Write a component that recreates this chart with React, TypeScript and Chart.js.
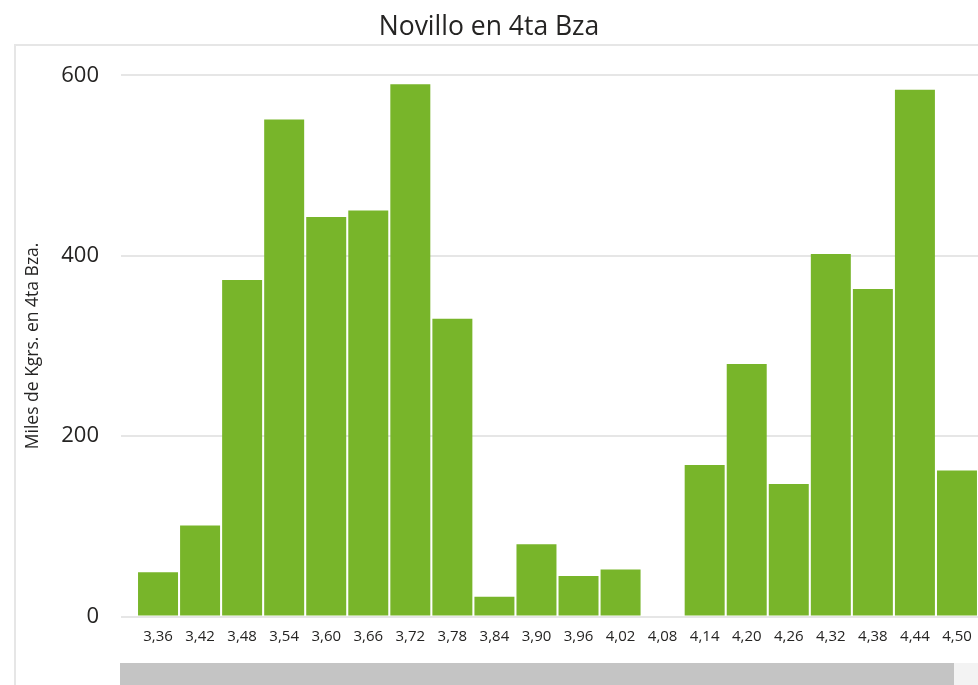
import React, { useEffect, useRef } from "react";
import { Chart, registerables } from "chart.js";

Chart.register(...registerables);

const chartTitle = "Novillo en 4ta Bza";
const yAxisTitle = "Miles de Kgrs. en 4ta Bza.";
const categories = [
  "3,36", "3,42", "3,48", "3,54", "3,60", "3,66", "3,72", "3,78", "3,84", "3,90",
  "3,96", "4,02", "4,08", "4,14", "4,20", "4,26", "4,32", "4,38", "4,44", "4,50",
];
const values = [
  49, 101, 373, 551, 443, 450, 590, 330, 22, 80,
  45, 52, 0, 168, 280, 147, 402, 363, 584, 162,
];
const yTicks = [0, 200, 400, 600];

const FONT = "'Segoe UI', 'Open Sans', sans-serif";
const GREEN = "#78B52A";
const GRID = "#e6e6e6";
const TEXT = "#252423";

export default function App() {
  const canvasRef = useRef<HTMLCanvasElement | null>(null);

  useEffect(() => {
    const ctx = canvasRef.current!;
    const chart = new Chart(ctx, {
      type: "bar",
      data: {
        labels: categories,
        datasets: [
          {
            data: values,
            backgroundColor: GREEN,
            borderWidth: 0,
            categoryPercentage: 1,
            barPercentage: 0.951,
          },
        ],
      },
      options: {
        animation: false,
        responsive: false,
        maintainAspectRatio: false,
        layout: { padding: { left: 0, right: 0, top: 0, bottom: 0 } },
        plugins: {
          legend: { display: false },
          tooltip: { enabled: false },
          title: {
            display: true,
            text: chartTitle,
            color: TEXT,
            font: { family: FONT, size: 26.5, weight: "normal", lineHeight: 1.2 },
            padding: { top: 11.5, bottom: 32 },
          },
        },
        scales: {
          x: {
            grid: { display: false, drawTicks: false },
            border: { display: false },
            ticks: {
              color: TEXT,
              font: { family: FONT, size: 15 },
              padding: 11,
              maxRotation: 0,
              autoSkip: false,
            },
            afterFit: (scale: any) => {
              scale.height = 68.5;
              scale.paddingLeft = 0;
              scale.paddingRight = 0;
            },
          },
          y: {
            min: 0,
            max: 600,
            afterBuildTicks: (scale: any) => {
              scale.ticks = yTicks.map((v) => ({ value: v }));
            },
            grid: {
              color: GRID,
              lineWidth: 2,
              drawTicks: true,
              tickLength: 16,
            },
            border: { display: false },
            ticks: {
              color: TEXT,
              font: { family: FONT, size: 22 },
              padding: 22,
            },
            title: {
              display: true,
              text: yAxisTitle,
              color: TEXT,
              font: { family: FONT, size: 17.5, lineHeight: 1.2 },
              padding: { top: 22.5, bottom: 0 },
            },
            afterFit: (scale: any) => {
              scale.width = 137;
            },
          },
        },
      },
    });
    return () => chart.destroy();
  }, []);

  return (
    <div style={{ position: "absolute", left: 0, top: 0, width: 978, height: 685, overflow: "hidden", background: "#fff" }}>
      <div
        style={{
          position: "absolute",
          left: 14,
          top: 44,
          width: 980,
          height: 700,
          borderLeft: `2px solid ${GRID}`,
          borderTop: `2px solid ${GRID}`,
        }}
      />
      <canvas ref={canvasRef} width={978} height={685} style={{ position: "absolute", left: 0, top: 0 }} />
      <div style={{ position: "absolute", left: 120, top: 663, width: 834, height: 22, background: "#c4c4c4" }} />
      <div style={{ position: "absolute", left: 954, top: 663, width: 24, height: 22, background: "#f3f3f3" }} />
    </div>
  );
}
